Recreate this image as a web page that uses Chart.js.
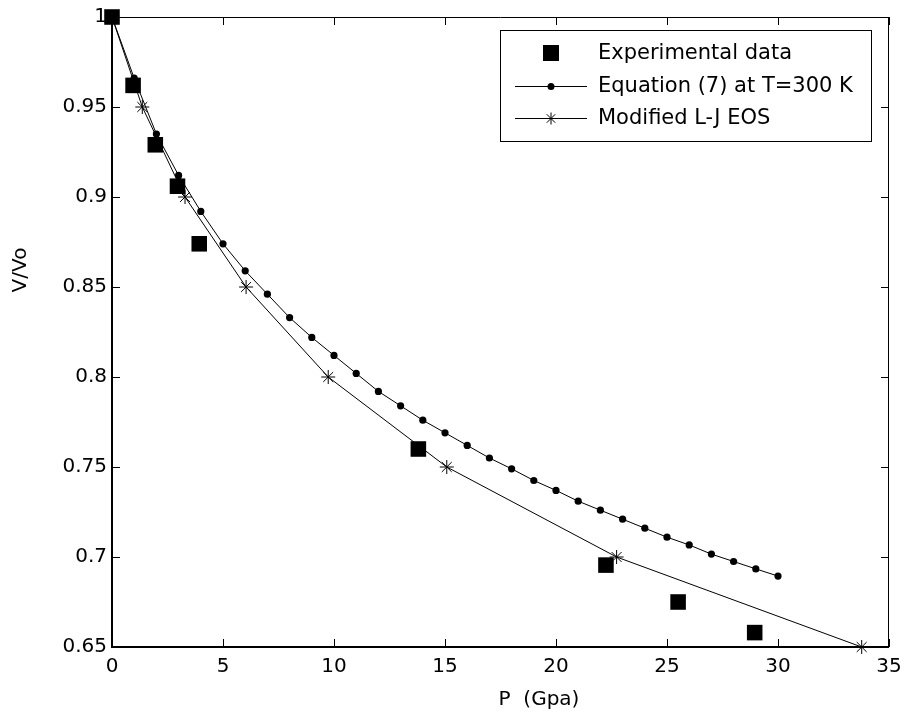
<!DOCTYPE html>
<html>
<head>
<meta charset="utf-8">
<script src="https://cdn.jsdelivr.net/npm/chart.js@4/dist/chart.umd.min.js"></script>
<style>
  html, body { margin: 0; padding: 0; background: #ffffff; }
  #wrap { width: 906px; height: 715px; position: relative; }
</style>
</head>
<body>
<div id="wrap"><canvas id="c" width="906" height="715"></canvas></div>
<script>
// ---- data ----
const expP = [0, 0.95, 1.95, 2.95, 3.93, 13.8, 22.25, 25.5, 28.95];
const expV = [1.0, 0.962, 0.929, 0.906, 0.874, 0.760, 0.6955, 0.675, 0.658];

const eqP = [0, 1, 2, 3, 4, 5, 6, 7, 8, 9, 10, 11, 12, 13, 14, 15, 16, 17, 18, 19, 20, 21, 22, 23, 24, 25, 26, 27, 28, 29, 30];
const eqV = [1.0, 0.966, 0.935, 0.912, 0.892, 0.874, 0.859, 0.846, 0.833, 0.822, 0.812, 0.802, 0.792, 0.784, 0.776, 0.769,
             0.762, 0.755, 0.749, 0.7425, 0.737, 0.731, 0.726, 0.721, 0.716, 0.711, 0.7067, 0.7016, 0.6975, 0.6934, 0.6894];

const ljP = [0, 1.365, 3.29, 6.04, 9.74, 15.08, 22.73, 33.77];
const ljV = [1.0, 0.95, 0.90, 0.85, 0.80, 0.75, 0.70, 0.65];

const xTickValues = [0, 5, 10, 15, 20, 25, 30, 35];
const yTickValues = [0.65, 0.7, 0.75, 0.8, 0.85, 0.9, 0.95, 1];

const seriesNames = ['Experimental data', 'Equation (7) at T=300 K', 'Modified L-J EOS'];
const xTitle = 'P  (Gpa)';
const yTitle = 'V/Vo';

const FONT = 'DejaVu Sans';
const toXY = (xs, ys) => xs.map((x, i) => ({ x: x, y: ys[i] }));

const framePlugin = {
  id: 'frame',
  beforeDatasetsDraw(chart) {
    const ctx = chart.ctx, a = chart.chartArea;
    const xs = chart.scales.x, ys = chart.scales.y;
    ctx.save();
    ctx.strokeStyle = '#000';
    ctx.lineWidth = 1;
    ctx.beginPath();
    ctx.moveTo(a.left, a.top + 0.5); ctx.lineTo(a.right, a.top + 0.5);
    ctx.moveTo(a.right - 0.5, a.top); ctx.lineTo(a.right - 0.5, a.bottom);
    ctx.stroke();
    const TL = 8;
    ctx.beginPath();
    xs.ticks.forEach(t => {
      const px = Math.round(xs.getPixelForValue(t.value)) + 0.5;
      ctx.moveTo(px, a.bottom); ctx.lineTo(px, a.bottom - TL);
      ctx.moveTo(px, a.top); ctx.lineTo(px, a.top + TL);
    });
    ys.ticks.forEach(t => {
      const py = Math.round(ys.getPixelForValue(t.value)) + 0.5;
      ctx.moveTo(a.left, py); ctx.lineTo(a.left + TL, py);
      ctx.moveTo(a.right, py); ctx.lineTo(a.right - TL, py);
    });
    ctx.stroke();
    ctx.lineWidth = 2;
    ctx.beginPath();
    ctx.moveTo(a.left, a.top); ctx.lineTo(a.left, a.bottom);
    ctx.lineTo(a.right, a.bottom);
    ctx.stroke();
    ctx.restore();
  },
  afterDraw(chart) {
    const ctx = chart.ctx;
    ctx.save();
    ctx.fillStyle = '#000';
    ctx.font = '20px "' + FONT + '"';
    ctx.textAlign = 'center';
    ctx.textBaseline = 'middle';
    ctx.fillText(xTitle, 539, 700);
    ctx.translate(21, 270);
    ctx.rotate(-Math.PI / 2);
    ctx.fillText(yTitle, 0, 0);
    ctx.restore();

    ctx.save();
    const bx = 500.5, by = 30.5, bw = 371, bh = 111;
    ctx.fillStyle = '#fff';
    ctx.fillRect(bx, by, bw, bh);
    ctx.strokeStyle = '#000';
    ctx.lineWidth = 1;
    ctx.strokeRect(bx, by, bw, bh);
    const mx = 551, rows = [53, 86, 118];
    ctx.fillStyle = '#000';
    ctx.fillRect(mx - 8, rows[0] - 8, 16, 16);
    ctx.beginPath();
    ctx.moveTo(515, rows[1] + 0.5); ctx.lineTo(587, rows[1] + 0.5);
    ctx.stroke();
    ctx.beginPath();
    ctx.arc(mx, rows[1] + 0.5, 3.5, 0, Math.PI * 2);
    ctx.fill();
    ctx.beginPath();
    ctx.moveTo(515, rows[2] + 0.5); ctx.lineTo(587, rows[2] + 0.5);
    ctx.stroke();
    Chart.helpers.drawPoint(ctx, { pointStyle: 'star', radius: 6, borderWidth: 1 }, mx, rows[2] + 0.5);
    ctx.fillStyle = '#000';
    ctx.font = '21px "' + FONT + '"';
    ctx.textAlign = 'left';
    ctx.textBaseline = 'middle';
    seriesNames.forEach((s, i) => ctx.fillText(s, 598, rows[i] + 1));
    ctx.restore();
  }
};

new Chart(document.getElementById('c'), {
  type: 'scatter',
  data: {
    datasets: [
      {
        label: seriesNames[0],
        data: toXY(expP, expV),
        showLine: false,
        pointStyle: 'rect',
        pointRadius: 11,
        pointHoverRadius: 11,
        backgroundColor: '#000',
        borderColor: '#000',
        borderWidth: 0
      },
      {
        label: seriesNames[1],
        data: toXY(eqP, eqV),
        showLine: true,
        borderColor: '#000',
        borderWidth: 1,
        backgroundColor: '#000',
        pointStyle: 'circle',
        pointRadius: 3.6,
        pointHoverRadius: 3.6,
        pointBorderWidth: 0,
        tension: 0
      },
      {
        label: seriesNames[2],
        data: toXY(ljP, ljV),
        showLine: true,
        borderColor: '#000',
        borderWidth: 1,
        backgroundColor: '#000',
        pointStyle: 'star',
        pointRadius: 7,
        pointHoverRadius: 7,
        pointBorderWidth: 1,
        tension: 0
      }
    ]
  },
  options: {
    responsive: false,
    animation: false,
    devicePixelRatio: 1,
    clip: false,
    layout: { padding: { left: 0, top: 17, right: 17, bottom: 0 } },
    plugins: { legend: { display: false }, tooltip: { enabled: false } },
    scales: {
      x: {
        type: 'linear',
        min: 0, max: 35,
        afterBuildTicks: s => { s.ticks = xTickValues.map(v => ({ value: v })); },
        afterFit: s => { s.height = 68; s.paddingLeft = 0; s.paddingRight = 0; },
        grid: { display: false, drawTicks: false },
        border: { display: false },
        ticks: {
          color: '#000', padding: 8,
          font: { family: FONT, size: 20 },
          maxRotation: 0,
          callback: v => String(v)
        }
      },
      y: {
        type: 'linear',
        min: 0.65, max: 1,
        afterBuildTicks: s => { s.ticks = yTickValues.map(v => ({ value: v })); },
        afterFit: s => { s.width = 112; s.paddingTop = 0; s.paddingBottom = 0; },
        grid: { display: false, drawTicks: false },
        border: { display: false },
        ticks: {
          color: '#000', padding: 5,
          font: { family: FONT, size: 20 },
          callback: v => String(parseFloat(Number(v).toFixed(2)))
        }
      }
    }
  },
  plugins: [framePlugin]
});
</script>
</body>
</html>
